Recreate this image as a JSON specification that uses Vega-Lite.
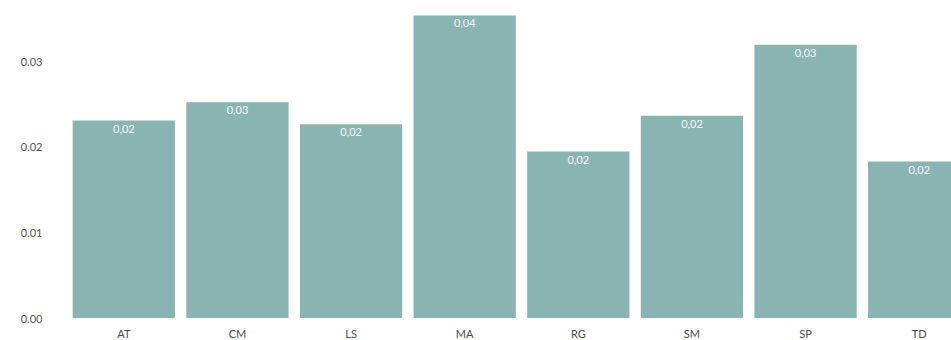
{
  "$schema": "https://vega.github.io/schema/vega-lite/v6.json",
  "autosize": "none",
  "width": 884,
  "height": 308,
  "padding": {"left": 67, "top": 10, "right": 0, "bottom": 22},
  "background": "white",
  "config": {
    "view": {"stroke": null},
    "font": "Lato"
  },
  "data": {
    "values": [
      {"group": "AT", "value": 0.02308},
      {"group": "CM", "value": 0.02523},
      {"group": "LS", "value": 0.02265},
      {"group": "MA", "value": 0.03536},
      {"group": "RG", "value": 0.01945},
      {"group": "SM", "value": 0.02363},
      {"group": "SP", "value": 0.03193},
      {"group": "TD", "value": 0.01828}
    ]
  },
  "encoding": {
    "x": {
      "field": "group",
      "type": "nominal",
      "sort": null,
      "scale": {"range": [0, 909], "paddingInner": 0.1, "paddingOuter": 0.05},
      "axis": {
        "title": null,
        "labelAngle": 0,
        "ticks": false,
        "domain": false,
        "labelPadding": 10,
        "labelFontSize": 11,
        "labelColor": "#4a4a4a",
        "labelFont": "Lato"
      }
    },
    "y": {
      "field": "value",
      "type": "quantitative",
      "scale": {"domain": [0, 0.036], "nice": false},
      "axis": {
        "title": null,
        "values": [0, 0.01, 0.02, 0.03],
        "format": ".2f",
        "grid": false,
        "ticks": false,
        "domain": false,
        "labelPadding": 25,
        "labelFontSize": 11,
        "labelColor": "#555555",
        "labelFont": "Lato",
        "labelOffset": 1
      }
    }
  },
  "layer": [
    {
      "mark": {"type": "bar", "color": "#8ab4b2", "clip": true}
    },
    {
      "transform": [
        {"calculate": "replace(format(datum.value, '.2f'), '.', ',')", "as": "label"}
      ],
      "mark": {
        "type": "text",
        "baseline": "top",
        "dy": 3,
        "color": "#f4f8f8",
        "fontSize": 11,
        "font": "Lato"
      },
      "encoding": {
        "text": {"field": "label"}
      }
    }
  ]
}
